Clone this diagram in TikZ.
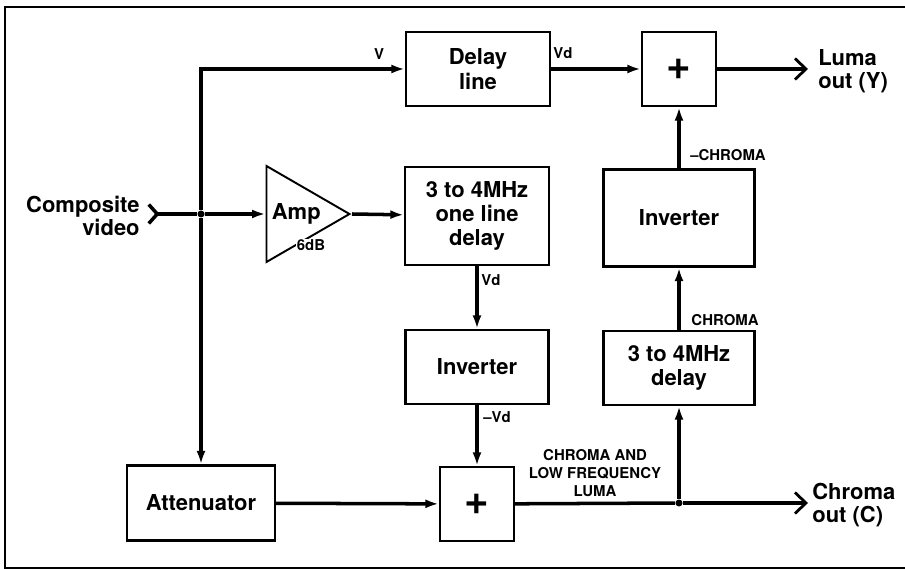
\documentclass[tikz,border=0pt]{standalone}
\usepackage{fontspec}
\setmainfont{TeX Gyre Heros}
\usetikzlibrary{arrows.meta,shapes.geometric}

\begin{document}
\begin{tikzpicture}[x=.2mm,y=-.2mm,
      block/.style={draw,line width=1.3pt,align=center,inner sep=2pt,
                    font=\fontsize{12.5}{13.8}\selectfont\bfseries},
      adder/.style={draw,line width=1.3pt,minimum width=1.48cm,minimum height=1.48cm,
                    inner sep=0pt,font=\fontsize{24}{24}\selectfont\bfseries},
      ampl/.style={draw,line width=1.1pt,isosceles triangle,isosceles triangle stretches,
                    minimum width=1.92cm,minimum height=1.66cm,inner sep=0pt,
                    font=\fontsize{12.5}{14}\selectfont\bfseries},
      port/.style={inner sep=0pt,font=\fontsize{12.5}{13.4}\selectfont\bfseries},
      sig/.style={inner sep=1pt,align=center,font=\fontsize{8.5}{10.3}\selectfont\bfseries},
      junction/.style={circle,fill,inner sep=0pt,minimum size=.14cm},
      flow/.style={-{Latex[length=.27cm,width=.18cm]},line width=2pt},
      feed/.style={{Straight Barb[reversed,length=.17cm,width=.38cm]}-,line width=2pt},
      result/.style={-{Straight Barb[length=.22cm,width=.42cm,line width=1.6pt]},line width=2pt}]
    \useasboundingbox (0,0) rectangle (905,570);
    \draw[line width=1.1pt] (905,7) -- (5,7) -- (5,568) -- (905,568);
    \node[port,anchor=east,align=right] (src) at (140,216) {Composite\\video};
    \coordinate (in) at (147,214);
    \node[junction] (split) at (201,214) {};
    \node[block,minimum width=2.88cm,minimum height=1.48cm] (delay) at (478,69) {Delay\\line};
    \node[adder] (addY) at (679,69) {+};
    \node[ampl,anchor=apex] (amp) at (352,214) {Amp};
    \node[fill=white,sig,inner sep=.5pt] (gain) at (311,245) {6dB};
    \node[block,minimum width=2.88cm,minimum height=1.96cm] (dlyL) at (477,216) {3 to 4MHz\\one line\\delay};
    \node[block,minimum width=2.86cm,minimum height=1.48cm] (invL) at (477,367) {Inverter};
    \node[adder] (addC) at (477,504) {+};
    \node[block,minimum width=2.96cm,minimum height=1.5cm] (atten) at (201,503) {Attenuator};
    \node[block,minimum width=3.02cm,minimum height=1.94cm] (invR) at (679,218) {Inverter};
    \node[block,minimum width=3.02cm,minimum height=1.48cm] (dlyR) at (679,368) {3 to 4MHz\\delay};
    \node[junction] (tap) at (679,503) {};
    \coordinate (lumaend) at (808,69);
    \coordinate (chromaend) at (808,503);
    \node[port,anchor=west,align=left] (luma) at (818,71) {Luma\\out (Y)};
    \node[port,anchor=west,align=left] (chroma) at (812,505) {Chroma\\out (C)};
    \draw[feed] (in) -- (split);
    \draw[flow] (split) -- (amp);
    \draw[flow] (split) |- (delay);
    \draw[flow] (split) -- (atten);
    \draw[flow] (amp.apex) -- (dlyL);
    \draw[flow] (delay) -- (addY);
    \draw[result] (addY) -- (lumaend);
    \draw[flow] (dlyL) -- (invL);
    \draw[flow] (invL) -- (addC);
    \draw[flow] (atten) -- (addC);
    \draw[line width=2pt] (addC) -- (tap);
    \draw[result] (tap) -- (chromaend);
    \draw[flow] (tap) -- (dlyR);
    \draw[flow] (dlyR) -- (invR);
    \draw[flow] (invR) -- (addY);
    \node[sig] (lblV) at (379,54) {V};
    \node[sig] (lblVd) at (563,53) {Vd};
    \node[sig] (lblVd2) at (491,280) {Vd};
    \node[sig] (lblnVd) at (497,417) {--Vd};
    \node[sig] (lblnC) at (728,155) {--CHROMA};
    \node[sig] (lblC) at (725,320) {CHROMA};
    \node[sig] (lblmix) at (595,473) {CHROMA AND\\LOW FREQUENCY\\LUMA};
    \end{tikzpicture}
\end{document}
